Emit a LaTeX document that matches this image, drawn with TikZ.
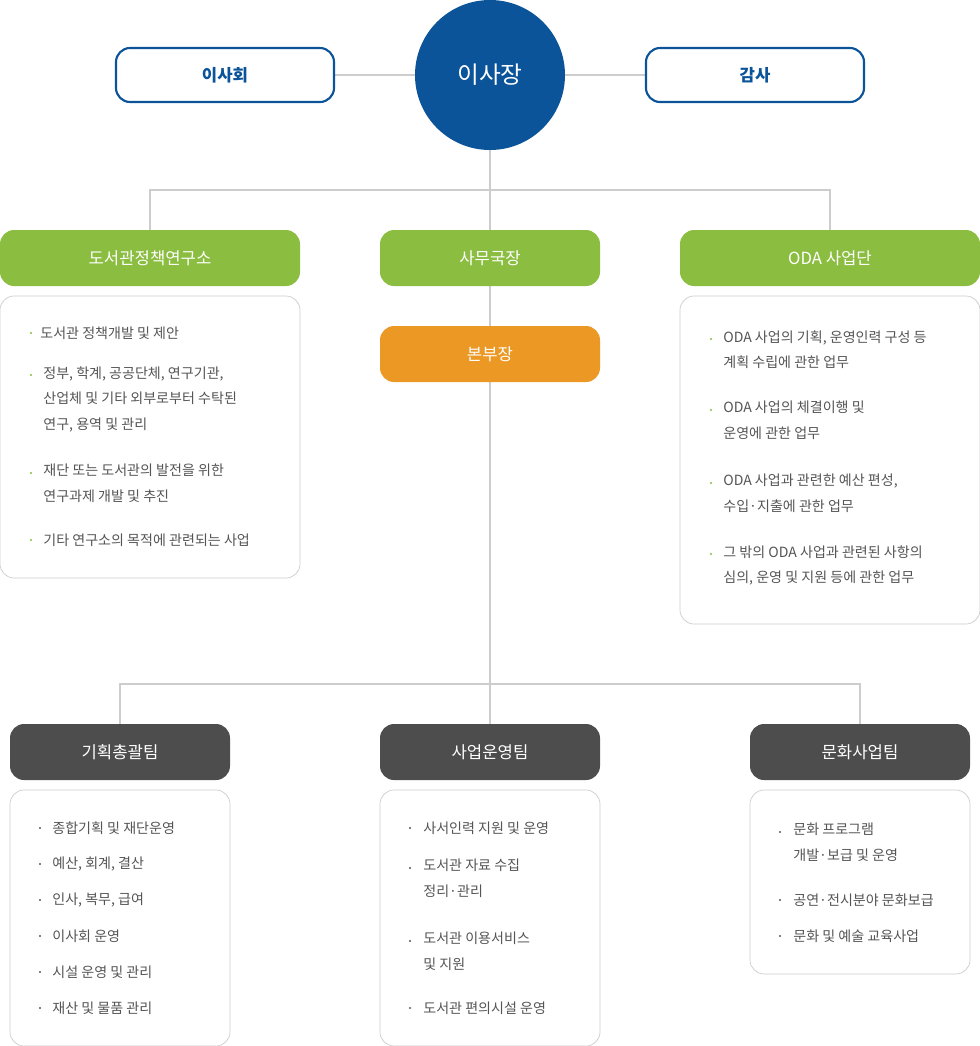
\documentclass[tikz,border=0pt]{standalone}
\usepackage{fontspec}
\setmainfont{Noto Sans CJK KR}
\usetikzlibrary{positioning,calc}
\definecolor{chiefcolor}{RGB}{12,84,153}
\definecolor{instcolor}{RGB}{139,189,64}
\definecolor{hqcolor}{RGB}{236,152,36}
\definecolor{teamcolor}{RGB}{77,77,77}
\definecolor{linecolor}{RGB}{205,205,205}
\definecolor{textcolor}{RGB}{85,85,85}
\tikzset{
  %% board : side boxes next to the chief
  board/.style={
    rectangle, rounded corners=8pt, draw=chiefcolor, line width=1.2pt,
    fill=white, minimum width=218*0.02cm, minimum height=54*0.02cm,
    text=chiefcolor, font=\fontsize{9.5pt}{11pt}\selectfont\bfseries
  },
  %% head : coloured title boxes
  head/.style={
    rectangle, rounded corners=8pt, minimum width=220*0.02cm,
    minimum height=56*0.02cm, text=white,
    font=\fontsize{9.5pt}{11pt}\selectfont
  },
  %% detail : frame around the task list
  detail/.style={draw=linecolor, rounded corners=8pt, fill=white},
  %% item : one task
  item/.style={anchor=west, inner sep=0pt, align=left, text=textcolor,
    font=\fontsize{8pt}{14.7pt}\selectfont},
  conn/.style={draw=linecolor, line width=0.6pt}
}
\newcommand{\dotg}[1]{\fill[instcolor] (#1) circle (1.2*0.02cm);}
\newcommand{\dotk}[1]{\fill[textcolor] (#1) circle (1.2*0.02cm);}

\begin{document}
\begin{tikzpicture}[x=0.02cm, y=-0.02cm]
  \useasboundingbox (0,0) rectangle (980,1046);

  %% Connections (drawn first, under the boxes)
  \coordinate (top) at (490,190);
  \draw [conn] (490,150) -- (top);
  \draw [conn] (150,230) -- (150,190) -- (830,190) -- (830,230);
  \draw [conn] (top) -- (490,230);
  \draw [conn] (490,286) -- (490,684);
  \draw [conn] (120,724) -- (120,684) -- (860,684) -- (860,724);
  \draw [conn] (490,684) -- (490,724);
  \draw [conn] (334,75) -- (646,75);

  %% Chief and board
  \node (chief) [circle, fill=chiefcolor, minimum size=150*0.02cm, text=white,
    font=\fontsize{13.5pt}{16pt}\selectfont] at (490,75) {이사장};
  \node (board) [board] at (225,75) {이사회};
  \node (audit) [board] at (755,75) {감사};

  %% Second level
  \node (inst) [head, fill=instcolor, minimum width=300*0.02cm] at (150,258) {도서관정책연구소};
  \node (sec) [head, fill=instcolor] at (490,258) {사무국장};
  \node (oda) [head, fill=instcolor, minimum width=300*0.02cm] at (830,258) {ODA 사업단};
  \node (hq) [head, fill=hqcolor] at (490,354) {본부장};

  %% Institute tasks
  \draw [detail] (0,296) rectangle (300,578);
  \dotg{31,333} \node (i1) [item] at (40,333) {도서관 정책개발 및 제안};
  \dotg{31,375} \node (i2) [item, anchor=north west] at (43,366) {정부, 학계, 공공단체, 연구기관,\\산업체 및 기타 외부로부터 수탁된\\연구, 용역 및 관리};
  \dotg{31,473} \node (i3) [item, anchor=north west] at (43,464) {재단 또는 도서관의 발전을 위한\\연구과제 개발 및 추진};
  \dotg{31,540} \node (i4) [item] at (43,540) {기타 연구소의 목적에 관련되는 사업};

  %% ODA tasks
  \draw [detail] (680,296) rectangle (980,624);
  \dotg{711,339} \node (o1) [item, anchor=north west] at (723,330) {ODA 사업의 기획, 운영인력 구성 등\\계획 수립에 관한 업무};
  \dotg{711,410} \node (o2) [item, anchor=north west] at (723,401) {ODA 사업의 체결이행 및\\운영에 관한 업무};
  \dotg{711,483} \node (o3) [item, anchor=north west] at (723,474) {ODA 사업과 관련한 예산 편성,\\수입·지출에 관한 업무};
  \dotg{711,554} \node (o4) [item, anchor=north west] at (723,545) {그 밖의 ODA 사업과 관련된 사항의\\심의, 운영 및 지원 등에 관한 업무};

  %% Teams
  \node (plan) [head, fill=teamcolor] at (120,752) {기획총괄팀};
  \node (ops) [head, fill=teamcolor] at (490,752) {사업운영팀};
  \node (cult) [head, fill=teamcolor] at (860,752) {문화사업팀};

  %% Planning team tasks
  \draw [detail] (10,790) rectangle (230,1046);
  \foreach \t [count=\k from 0] in {종합기획 및 재단운영, {예산, 회계, 결산}, {인사, 복무, 급여},
      이사회 운영, 시설 운영 및 관리, 재산 및 물품 관리} {
    \dotk{40,828+36*\k}
    \node (p\k) [item] at (52,828+36*\k) {\t};
  }

  %% Operations team tasks
  \draw [detail] (380,790) rectangle (600,1046);
  \dotk{410,828} \node (s1) [item] at (423,828) {사서인력 지원 및 운영};
  \dotk{410,868} \node (s2) [item, anchor=north west] at (423,859) {도서관 자료 수집\\정리·관리};
  \dotk{410,941} \node (s3) [item, anchor=north west] at (423,932) {도서관 이용서비스\\및 지원};
  \dotk{410,1008} \node (s4) [item] at (423,1008) {도서관 편의시설 운영};

  %% Culture team tasks
  \draw [detail] (750,790) rectangle (970,974);
  \dotk{780,832} \node (c1) [item, anchor=north west] at (793,823) {문화 프로그램\\개발·보급 및 운영};
  \dotk{780,900} \node (c2) [item] at (793,900) {공연·전시분야 문화보급};
  \dotk{780,936} \node (c3) [item] at (793,936) {문화 및 예술 교육사업};
\end{tikzpicture}
\end{document}
